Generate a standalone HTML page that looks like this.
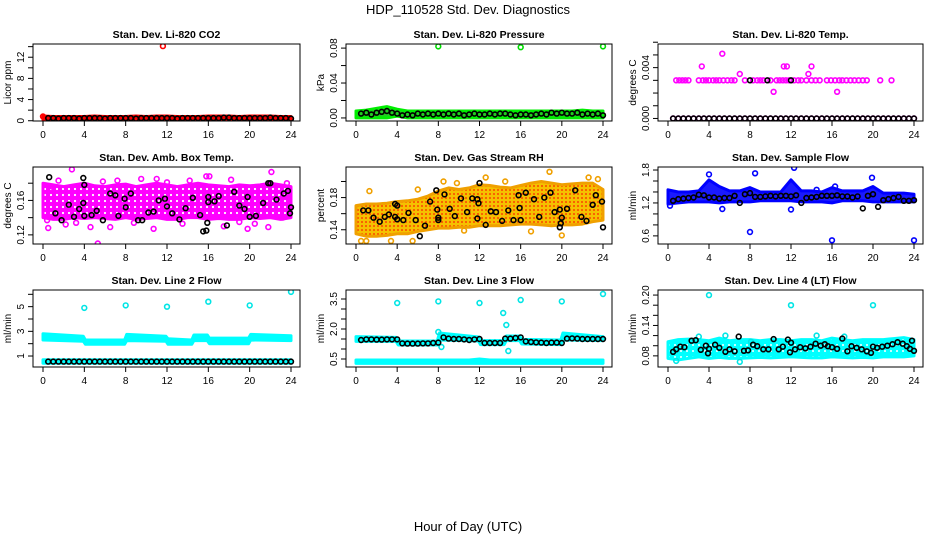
<!DOCTYPE html>
<html><head><meta charset="utf-8">
<style>
html,body{margin:0;padding:0;background:#fff;}
svg{display:block;font-family:"Liberation Sans",Arial,sans-serif;}
</style></head>
<body>
<svg id="chart" width="936" height="540" viewBox="0 0 936 540" xmlns="http://www.w3.org/2000/svg">
<defs>
<pattern id="rhpat" width="4" height="4" patternUnits="userSpaceOnUse">
<rect width="4" height="4" fill="#f5c000"/><circle cx="2" cy="2" r="0.9" fill="#ff2000"/>
</pattern>
<pattern id="magpat" width="6" height="6" patternUnits="userSpaceOnUse">
<rect width="6" height="6" fill="#ff00ff"/><circle cx="3" cy="3" r="1.1" fill="#ffffff"/>
</pattern>
<pattern id="cyanpat" width="6" height="6" patternUnits="userSpaceOnUse">
<rect width="6" height="6" fill="#00ffff"/><circle cx="3" cy="3" r="1.0" fill="#ffffff"/>
</pattern>
</defs>
<text x="468" y="14" text-anchor="middle" font-size="13">HDP_110528  Std. Dev. Diagnostics</text>
<text x="468" y="531" text-anchor="middle" font-size="13">Hour of Day (UTC)</text>
</svg>
<script>
const xTicks = [0,4,8,12,16,20,24];
const halfHours = [0.5,1,1.5,2,2.5,3,3.5,4,4.5,5,5.5,6,6.5,7,7.5,8,8.5,9,9.5,10,10.5,11,11.5,12,12.5,13,13.5,14,14.5,15,15.5,16,16.5,17,17.5,18,18.5,19,19.5,20,20.5,21,21.5,22,22.5,23,23.5,24];
const bandHours = [0,1,2,3,4,5,6,7,8,9,10,11,12,13,14,15,16,17,18,19,20,21,22,23,24];

const co2Black = [0.5,0.5,0.4,0.5,0.5,0.5,0.4,0.5,0.5,0.5,0.5,0.4,0.5,0.5,0.5,0.5,0.5,0.4,0.5,0.5,0.5,0.5,0.5,0.5,0.5,0.4,0.5,0.5,0.5,0.5,0.5,0.5,0.5,0.5,0.6,0.6,0.5,0.5,0.5,0.5,0.5,0.5,0.5,0.6,0.5,0.5,0.5,0.4];
const co2Lo = [0.2,0.2,0.2,0.2,0.2,0.2,0.2,0.2,0.2,0.2,0.2,0.2,0.2,0.2,0.2,0.2,0.2,0.2,0.2,0.2,0.2,0.2,0.2,0.2,0.2];
const co2Hi = [0.9,0.8,0.8,0.8,0.8,0.9,0.8,0.8,0.8,0.9,0.8,0.9,0.9,0.8,0.8,0.8,0.9,0.9,0.9,0.8,0.9,0.9,0.9,0.8,0.8];
const co2OutX = [11.6,0.0];
const co2OutY = [14.1,0.8];
const co2YTicks = [0,2,4,6,8,10,12,14];
const co2YLabels = ["0","","4","","8","","12",""];

const prBlack = [0.005,0.006,0.004,0.006,0.007,0.008,0.006,0.005,0.003,0.004,0.003,0.005,0.004,0.005,0.004,0.005,0.004,0.005,0.004,0.005,0.003,0.004,0.005,0.004,0.004,0.005,0.004,0.005,0.005,0.004,0.003,0.004,0.004,0.003,0.004,0.005,0.004,0.006,0.005,0.006,0.005,0.005,0.006,0.004,0.005,0.004,0.005,0.003];
const prLo = [0,0,0,0,0.002,0,0,0,0,0,0,0,0,0,0,0,0,0,0,0,0,0,0,0,0];
const prHi = [0.008,0.009,0.011,0.013,0.010,0.008,0.008,0.008,0.008,0.008,0.008,0.008,0.008,0.008,0.008,0.008,0.008,0.008,0.008,0.008,0.008,0.008,0.009,0.008,0.008];
const prOutX = [8,16,24];
const prOutY = [0.082,0.081,0.082];
const prYTicks = [0,0.02,0.04,0.06,0.08];
const prYLabels = ["0.00","","0.04","","0.08"];

const ltBlack = [0,0,0,0,0,0,0,0,0,0,0,0,0,0,0,0,0,0,0,0,0,0,0,0,0,0,0,0,0,0,0,0,0,0,0,0,0,0,0,0,0,0,0,0,0,0,0,0];
const ltBlackX2 = [8,9.7,12];
const ltBlackY2 = [0.003,0.003,0.003];
const ltMidX = [0.8,1.1,1.4,1.7,2.0,3.0,3.4,3.7,4.0,4.4,4.7,5.0,5.4,5.8,6.2,6.5,7.5,8.3,8.7,9.0,9.3,10.0,10.6,10.9,11.2,11.5,11.8,12.3,12.7,13.0,13.5,14.0,14.4,14.8,15.5,15.9,16.3,16.7,17.0,17.4,17.8,18.2,18.6,19.0,19.4,20.7,21.8];
const ltMidY = [0.003,0.003,0.003,0.003,0.003,0.003,0.003,0.003,0.003,0.003,0.003,0.003,0.003,0.003,0.003,0.003,0.003,0.003,0.003,0.003,0.003,0.003,0.003,0.003,0.003,0.003,0.003,0.003,0.003,0.003,0.003,0.003,0.003,0.003,0.003,0.003,0.003,0.003,0.003,0.003,0.003,0.003,0.003,0.003,0.003,0.003,0.003];
const ltOutX = [10.9,5.3,3.3,11.3,11.6,14.0,7.0,13.7,10.3,16.5];
const ltOutY = [0.0061,0.0051,0.0041,0.0041,0.0041,0.0041,0.0035,0.0035,0.0021,0.0021];
const ltYTicks = [0,0.001,0.002,0.003,0.004,0.005,0.006];
const ltYLabels = ["0.000","","","","0.004","",""];

const abBX = [0.6,1.2,1.8,2.5,3,3.5,3.9,4,4,3.9,4.7,5.2,5.8,6.5,7,7.3,7.9,8,8.5,9.2,9.6,10.2,10.7,11.2,11.8,12,12.5,13.2,13.8,14.5,15.2,15.5,15.8,15.9,16,16,16.6,17,17.8,18.5,19,19.5,19.8,20,20.6,21.3,21.8,22,22.6,23.3,23.7,23.9,24];
const abBY = [0.187,0.145,0.137,0.155,0.141,0.150,0.186,0.178,0.142,0.157,0.143,0.148,0.137,0.168,0.166,0.142,0.162,0.152,0.168,0.137,0.137,0.146,0.147,0.160,0.162,0.153,0.145,0.138,0.151,0.163,0.143,0.124,0.125,0.134,0.158,0.164,0.159,0.165,0.131,0.170,0.154,0.150,0.164,0.141,0.142,0.157,0.180,0.180,0.161,0.168,0.171,0.145,0.152];
const abLo = [0.140,0.138,0.138,0.140,0.139,0.140,0.139,0.138,0.140,0.138,0.139,0.140,0.138,0.138,0.140,0.140,0.138,0.139,0.138,0.138,0.140,0.139,0.140,0.138,0.140];
const abHi = [0.180,0.178,0.176,0.178,0.180,0.177,0.176,0.178,0.179,0.176,0.178,0.180,0.178,0.176,0.178,0.180,0.178,0.177,0.176,0.178,0.177,0.178,0.180,0.178,0.176];
const abOutX = [0.5,0.4,2.8,5.3,3.2,4.6,6.5,7.2,10.7,12.0,15.8,16.1,17.5,19.8,21.8,22.1,23.2,1.5,9.5,13.5,18.2,20.5,2.2,11.0,0.9,5.8,8.8,14.2,19.0,23.6];
const abOutY = [0.128,0.137,0.196,0.110,0.134,0.129,0.129,0.183,0.127,0.181,0.188,0.188,0.130,0.127,0.129,0.193,0.140,0.183,0.185,0.133,0.184,0.133,0.132,0.185,0.176,0.182,0.134,0.183,0.135,0.180];
const abYTicks = [0.12,0.14,0.16,0.18];
const abYLabels = ["0.12","","0.16",""];

const rhBX = [0.7,1.2,1.7,2.3,2.8,3.2,3.8,4,3.8,4,4.6,5.1,5.8,6.2,6.7,7.2,7.8,7.9,8,8,8.6,9.1,9.6,10.2,10.8,11.3,11.8,11.9,11.8,12,12.6,13.1,13.6,14.2,14.8,15.3,15.8,15.9,16,16.5,17.3,17.8,18.3,18.9,19.3,19.8,20,19.9,19.8,20.5,21.3,21.9,22.4,23,23.3,23.9,24];
const rhBY = [0.164,0.164,0.155,0.150,0.156,0.159,0.172,0.170,0.156,0.153,0.152,0.161,0.152,0.132,0.145,0.175,0.189,0.165,0.155,0.152,0.184,0.166,0.157,0.179,0.162,0.179,0.178,0.173,0.154,0.198,0.146,0.163,0.162,0.151,0.164,0.152,0.183,0.167,0.152,0.186,0.178,0.156,0.180,0.186,0.162,0.165,0.155,0.148,0.143,0.166,0.189,0.156,0.151,0.171,0.183,0.175,0.143];
const rhLo = [0.135,0.132,0.132,0.133,0.135,0.135,0.138,0.140,0.142,0.142,0.143,0.143,0.145,0.145,0.145,0.146,0.147,0.147,0.146,0.145,0.146,0.146,0.147,0.150,0.152];
const rhHi = [0.170,0.172,0.172,0.173,0.175,0.176,0.178,0.182,0.188,0.192,0.190,0.192,0.196,0.195,0.193,0.192,0.195,0.198,0.200,0.198,0.196,0.197,0.198,0.198,0.190];
const rhOutX = [0.5,1.0,3.4,5.5,8.5,9.8,12.6,14.5,18.8,22.6,23.5,1.3,6.0,10.5,17.0,20.0];
const rhOutY = [0.126,0.126,0.126,0.126,0.200,0.198,0.205,0.200,0.212,0.205,0.203,0.188,0.190,0.139,0.138,0.133];
const rhYTicks = [0.14,0.16,0.18,0.20];
const rhYLabels = ["0.14","","0.18",""];

const sfBlack = [1.24,1.27,1.28,1.29,1.30,1.35,1.34,1.30,1.30,1.28,1.29,1.29,1.33,1.20,1.36,1.38,1.31,1.31,1.32,1.33,1.32,1.33,1.33,1.32,1.34,1.20,1.29,1.30,1.31,1.33,1.33,1.33,1.34,1.32,1.32,1.30,1.32,1.10,1.33,1.36,1.13,1.25,1.27,1.29,1.31,1.24,1.24,1.25];
const sfLo = [1.18,1.20,1.22,1.22,1.22,1.20,1.22,1.22,1.22,1.24,1.24,1.24,1.24,1.22,1.22,1.22,1.20,1.24,1.24,1.24,1.22,1.22,1.22,1.22,1.22];
const sfHi = [1.44,1.40,1.40,1.42,1.62,1.50,1.42,1.42,1.48,1.40,1.40,1.40,1.62,1.42,1.42,1.40,1.48,1.42,1.42,1.42,1.50,1.38,1.38,1.38,1.36];
const sfOutX = [8.0,16.0,24.0,8.5,12.3,12.0,0.2,5.3,19.9,4.0,14.5,16.3];
const sfOutY = [0.67,0.52,0.52,1.74,1.84,1.08,1.15,1.09,1.66,1.72,1.44,1.50];
const sfYTicks = [0.6,0.8,1.0,1.2,1.4,1.6,1.8];
const sfYLabels = ["0.6","","","1.2","","","1.8"];

const l2Black = [0.55,0.55,0.55,0.55,0.55,0.55,0.55,0.55,0.55,0.55,0.55,0.55,0.55,0.55,0.55,0.55,0.55,0.55,0.55,0.55,0.55,0.55,0.55,0.55,0.55,0.55,0.55,0.55,0.55,0.55,0.55,0.55,0.55,0.55,0.55,0.55,0.55,0.55,0.55,0.55,0.55,0.55,0.55,0.55,0.55,0.55,0.55,0.55];
const l2LowLo = [0.42,0.42,0.42,0.42,0.42,0.42,0.42,0.42,0.42,0.42,0.42,0.42,0.42,0.42,0.42,0.42,0.42,0.42,0.42,0.42,0.42,0.42,0.42,0.42,0.42];
const l2LowHi = [0.7,0.7,0.7,0.7,0.7,0.7,0.7,0.7,0.7,0.7,0.7,0.7,0.7,0.7,0.7,0.7,0.7,0.7,0.7,0.7,0.7,0.7,0.7,0.7,0.7];
const l2BandX = [0,3.9,4.1,7.9,8.1,11.9,12.1,14.4,14.6,15.9,16.1,19.9,20.1,24];
const l2BandLo = [2.3,2.2,1.95,1.95,2.25,2.2,1.95,1.95,2.25,2.25,2.0,2.0,2.3,2.25];
const l2BandHi = [2.8,2.6,2.3,2.3,2.75,2.6,2.4,2.3,2.7,2.7,2.45,2.45,2.75,2.65];
const l2OutX = [4,8,12,16,20,24];
const l2OutY = [4.9,5.1,5.0,5.4,5.1,6.2];
const l2YTicks = [1,2,3,4,5,6];
const l2YLabels = ["1","","3","","5",""];

const l3Black = [1.45,1.48,1.48,1.47,1.47,1.48,1.48,1.48,1.28,1.27,1.27,1.27,1.28,1.28,1.30,1.32,1.58,1.52,1.50,1.50,1.48,1.45,1.48,1.50,1.30,1.30,1.30,1.30,1.52,1.52,1.55,1.58,1.38,1.35,1.33,1.32,1.30,1.32,1.32,1.30,1.52,1.53,1.52,1.50,1.50,1.50,1.50,1.50];
const l3BandX = [0,3.9,4.1,7.9,8.1,11.9,12.1,14.4,14.6,15.9,16.1,19.9,20.1,24];
const l3BandLo = [1.38,1.38,1.20,1.20,1.45,1.40,1.22,1.22,1.42,1.42,1.25,1.22,1.45,1.42];
const l3BandHi = [1.62,1.58,1.40,1.40,1.80,1.60,1.42,1.42,1.65,1.65,1.48,1.45,1.80,1.62];
const l3LowLo = [0.28,0.28,0.28,0.28,0.28,0.28,0.28,0.28,0.28,0.28,0.28,0.28,0.28,0.28,0.28,0.28,0.28,0.28,0.28,0.28,0.28,0.28,0.28,0.28,0.28];
const l3LowHi = [0.45,0.45,0.45,0.45,0.45,0.45,0.45,0.45,0.45,0.45,0.45,0.45,0.50,0.45,0.45,0.45,0.45,0.45,0.45,0.45,0.45,0.45,0.45,0.45,0.45];
const l3OutX = [4,8,12,16,20,24,14.3,14.6,8.3,14.8,8.0];
const l3OutY = [3.3,3.38,3.3,3.45,3.38,3.75,2.8,2.2,1.1,0.9,1.85];
const l3YTicks = [0.5,1.0,1.5,2.0,2.5,3.0,3.5];
const l3YLabels = ["0.5","","","2.0","","","3.5"];

const l4BX = [0.5,0.8,1.2,1.6,2.3,2.7,3.2,3.7,3.9,4.0,4.6,5.0,5.6,6.0,6.5,6.9,7.4,7.8,8.3,8.7,9.3,9.8,10.3,10.8,11.2,11.7,11.9,12.0,12.4,12.9,13.4,13.9,14.4,14.9,15.3,15.6,16.0,16.5,17.0,17.5,17.9,18.4,18.9,19.4,19.8,20.0,20.4,20.9,21.4,21.9,22.4,22.9,23.3,23.6,23.8,24.0];
const l4BY = [0.088,0.093,0.098,0.097,0.110,0.111,0.092,0.100,0.085,0.094,0.102,0.096,0.088,0.093,0.089,0.118,0.090,0.091,0.102,0.099,0.093,0.093,0.113,0.093,0.098,0.112,0.087,0.106,0.093,0.097,0.095,0.098,0.104,0.100,0.103,0.099,0.097,0.094,0.114,0.089,0.099,0.096,0.093,0.089,0.086,0.098,0.096,0.098,0.100,0.103,0.107,0.104,0.099,0.094,0.110,0.090];
const l4Lo = [0.075,0.072,0.075,0.078,0.075,0.077,0.075,0.075,0.076,0.077,0.076,0.077,0.078,0.077,0.076,0.076,0.078,0.077,0.076,0.077,0.076,0.078,0.078,0.078,0.080];
const l4Hi = [0.108,0.112,0.113,0.112,0.110,0.115,0.110,0.112,0.112,0.110,0.112,0.112,0.110,0.112,0.112,0.110,0.115,0.112,0.110,0.112,0.112,0.112,0.114,0.116,0.112];
const l4OutX = [4,12,20,5.6,8.1,0.8,7.0,3.0,17.2,14.5];
const l4OutY = [0.20,0.18,0.18,0.120,0.108,0.070,0.068,0.118,0.118,0.120];
const l4YTicks = [0.08,0.10,0.12,0.14,0.16,0.18,0.20];
const l4YLabels = ["0.08","","","0.14","","","0.20"];

const NS = "http://www.w3.org/2000/svg";
const svg = document.getElementById('chart');
const colBox = [[33,300],[346,612],[658,923]];
const rowBox = [[44,121],[167,244],[290,367]];

function mk(tag, attrs, parent){
  const e = document.createElementNS(NS, tag);
  for (const k in attrs) e.setAttribute(k, attrs[k]);
  (parent||svg).appendChild(e);
  return e;
}

function makePanel(col,row,title,ytitle,ymin,ymax,yTicks,yLabels,key){
  const [L,R] = colBox[col], [T,B] = rowBox[row];
  const g = mk('g',{});
  
  
  const sx = v => (L+10) + v/24*((R-9)-(L+10));
  const sy = v => B - (v-ymin)/(ymax-ymin)*(B-T);
  const t = mk('text',{x:(L+R)/2,y:T-6,'text-anchor':'middle','font-size':10.5,'font-weight':'bold'},g);
  t.textContent = title;
  
  
  const yt = mk('text',{x:0,y:0,'text-anchor':'middle','font-size':10,transform:`translate(${L-22},${(T+B)/2}) rotate(-90)`},g);
  yt.textContent = ytitle;
  
  
  const xa = mk('g',{},g);
  
  
  mk('line',{x1:sx(0),x2:sx(24),y1:B,y2:B,stroke:'#000','stroke-width':1},xa);
  xTicks.forEach(v=>{
    mk('line',{x1:sx(v),x2:sx(v),y1:B,y2:B+5,stroke:'#000','stroke-width':1},xa);
    const tx = mk('text',{x:sx(v),y:B+17,'text-anchor':'middle','font-size':10},xa);
    tx.textContent = v;
  });
  const ya = mk('g',{},g);
  
  
  yTicks.forEach((v,i)=>{
    mk('line',{x1:L,x2:L-5,y1:sy(v),y2:sy(v),stroke:'#000','stroke-width':1},ya);
    if (yLabels[i]) {
      const tx = mk('text',{x:0,y:0,'text-anchor':'middle','font-size':10,transform:`translate(${L-9},${sy(v)}) rotate(-90)`},ya);
      tx.textContent = yLabels[i];
    }
  });
  const clipId = 'clip-'+key;
  const cp = mk('clipPath',{id:clipId},g);
  mk('rect',{x:L,y:T,width:R-L,height:B-T},cp);
  const plot = mk('g',{'clip-path':`url(#${clipId})`},g);
  
  
  mk('rect',{x:L,y:T,width:R-L,height:B-T,fill:'none',stroke:'#000','stroke-width':1},g);
  return {g:plot,sx,sy};
}

function band(p, xs, lo, hi, color, fill, name){
  let d = 'M';
  xs.forEach((x,i)=>{ d += `${p.sx(x).toFixed(1)},${p.sy(hi[i]).toFixed(1)} L`; });
  for (let i=xs.length-1;i>=0;i--) d += `${p.sx(xs[i]).toFixed(1)},${p.sy(lo[i]).toFixed(1)} ${i? 'L':'Z'}`;
  const e = mk('path',{d:d,fill:fill||color,stroke:color,'stroke-width':3,'stroke-linejoin':'round'},p.g);
  
  
}

function points(p, xs, ys, color, name){
  const gg = mk('g',{},p.g);
  
  
  xs.forEach((x,i)=>{
    const c = mk('circle',{cx:p.sx(x).toFixed(1),cy:p.sy(ys[i]).toFixed(1),r:2.4,fill:'none',stroke:color,'stroke-width':1.6},gg);
    
    
  });
}

let p = makePanel(0,0,'Stan. Dev. Li-820 CO2','Licor ppm',-0.05,14.5,co2YTicks,co2YLabels,'co2');
band(p,bandHours,co2Lo,co2Hi,'#ff0000','#d00000','co2-red-cloud');
points(p,co2OutX,co2OutY,'#ff0000','co2-red-outliers');
points(p,halfHours,co2Black,'#000','co2-black-series');

p = makePanel(1,0,'Stan. Dev. Li-820 Pressure','kPa',-0.0035,0.0847,prYTicks,prYLabels,'pressure');
band(p,bandHours,prLo,prHi,'#00ee00','#22cc22','pressure-green-cloud');
points(p,prOutX,prOutY,'#00dd00','pressure-green-outliers');
points(p,halfHours,prBlack,'#000','pressure-black-series');

p = makePanel(2,0,'Stan. Dev. Li-820 Temp.','degrees C',-0.0002,0.00586,ltYTicks,ltYLabels,'li820-temp');
points(p,halfHours,halfHours.map(()=>0),'#ff00ff','li820-temp-magenta-zero');
points(p,ltMidX,ltMidY,'#ff00ff','li820-temp-magenta-mid');
points(p,ltOutX,ltOutY,'#ff00ff','li820-temp-magenta-outliers');
points(p,halfHours,ltBlack,'#000','li820-temp-black-series');
points(p,ltBlackX2,ltBlackY2,'#000','li820-temp-black-mid');

p = makePanel(0,1,'Stan. Dev. Amb. Box Temp.','degrees C',0.1094,0.1988,abYTicks,abYLabels,'amb-temp');
band(p,bandHours,abLo,abHi,'#ff00ff','url(#magpat)','amb-temp-magenta-cloud');
points(p,abOutX,abOutY,'#ff00ff','amb-temp-magenta-outliers');
points(p,abBX,abBY,'#000','amb-temp-black-series');

p = makePanel(1,1,'Stan. Dev. Gas Stream RH','percent',0.1223,0.218,rhYTicks,rhYLabels,'gas-rh');
band(p,bandHours,rhLo,rhHi,'#f0a000','url(#rhpat)','gas-rh-orange-cloud');
points(p,rhOutX,rhOutY,'#f0a000','gas-rh-orange-outliers');
points(p,rhBX,rhBY,'#000','gas-rh-black-series');

p = makePanel(2,1,'Stan. Dev. Sample Flow','ml/min',0.452,1.855,sfYTicks,sfYLabels,'sample-flow');
band(p,bandHours,sfLo,sfHi,'#0000ff','#1a1aff','sample-flow-blue-cloud');
points(p,sfOutX,sfOutY,'#0000ff','sample-flow-blue-outliers');
points(p,halfHours,sfBlack,'#000','sample-flow-black-series');

p = makePanel(0,2,'Stan. Dev. Line 2 Flow','ml/min',0.11,6.35,l2YTicks,l2YLabels,'line2');
band(p,bandHours,l2LowLo,l2LowHi,'#00ffff',null,'line2-cyan-low-cloud');
band(p,l2BandX,l2BandLo,l2BandHi,'#00ffff',null,'line2-cyan-high-cloud');
points(p,l2OutX,l2OutY,'#00e5e5','line2-cyan-outliers');
points(p,halfHours,l2Black,'#000','line2-black-series');

p = makePanel(1,2,'Stan. Dev. Line 3 Flow','ml/min',0.1,3.95,l3YTicks,l3YLabels,'line3');
band(p,bandHours,l3LowLo,l3LowHi,'#00ffff',null,'line3-cyan-low-cloud');
band(p,l3BandX,l3BandLo,l3BandHi,'#00ffff',null,'line3-cyan-high-cloud');
points(p,l3OutX,l3OutY,'#00e5e5','line3-cyan-outliers');
points(p,halfHours,l3Black,'#000','line3-black-series');

p = makePanel(2,2,'Stan. Dev. Line 4 (LT) Flow','ml/min',0.058,0.21,l4YTicks,l4YLabels,'line4');
band(p,bandHours,l4Lo,l4Hi,'#00ffff','url(#cyanpat)','line4-cyan-cloud');
points(p,l4OutX,l4OutY,'#00e5e5','line4-cyan-outliers');
points(p,l4BX,l4BY,'#000','line4-black-series');
</script>
</body></html>
